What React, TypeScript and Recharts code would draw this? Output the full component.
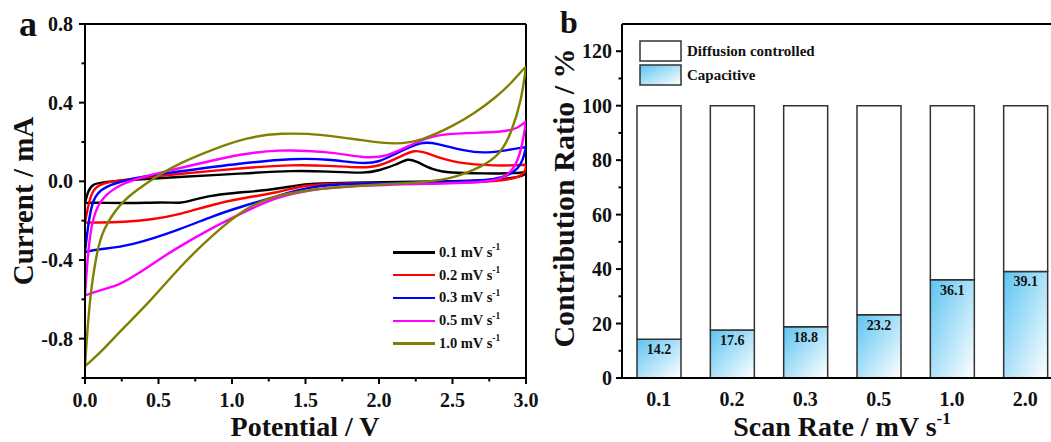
import React from "react";
import { LineChart, Line, XAxis, YAxis, ReferenceLine, BarChart, Bar, LabelList, Legend } from "recharts";

const FONT = '"Liberation Serif", "Times New Roman", serif';

// panel a - CV loops, [potential / V, current / mA], start at the V=0 corner, go up to 3 V and back
const cv01: [number, number][] = [
  [0, -0.11], [0.02, -0.05], [0.05, -0.015], [0.12, -0.003], [0.36, 0.01], [0.6, 0.02], [1.07, 0.04],
  [1.42, 0.055], [1.65, 0.05], [1.91, 0.04], [2.0, 0.055], [2.12, 0.085], [2.2, 0.118], [2.26, 0.1],
  [2.36, 0.06], [2.48, 0.042], [2.71, 0.04], [2.95, 0.04], [3.0, 0.05],
  [3.0, 0.05], [2.99, 0.03], [2.92, 0.017], [2.71, 0.003], [2.24, -0.002], [1.77, -0.006], [1.55, -0.012],
  [1.44, -0.02], [1.24, -0.047], [1.01, -0.058], [0.83, -0.075], [0.71, -0.1], [0.65, -0.112],
  [0.53, -0.105], [0.31, -0.112], [0.08, -0.108], [0, -0.11],
];
const cv02: [number, number][] = [
  [0, -0.21], [0.02, -0.13], [0.05, -0.04], [0.12, -0.005], [0.36, 0.017], [0.6, 0.035], [1.07, 0.068],
  [1.42, 0.085], [1.65, 0.08], [1.89, 0.068], [2.0, 0.076], [2.15, 0.127], [2.24, 0.162], [2.33, 0.144],
  [2.48, 0.1], [2.71, 0.08], [2.95, 0.081], [3.0, 0.085],
  [3.0, 0.085], [3.0, 0.04], [2.9, 0.008], [2.71, -0.005], [2.24, -0.012], [1.77, -0.008], [1.49, -0.017],
  [1.3, -0.06], [1.07, -0.085], [0.87, -0.117], [0.65, -0.168], [0.45, -0.195], [0.26, -0.207], [0.1, -0.21],
  [0, -0.21],
];
const cv03: [number, number][] = [
  [0, -0.36], [0.02, -0.23], [0.05, -0.09], [0.12, -0.025], [0.36, 0.022], [0.6, 0.046], [1.07, 0.093],
  [1.42, 0.117], [1.65, 0.113], [1.89, 0.088], [2.0, 0.097], [2.12, 0.144], [2.29, 0.203], [2.38, 0.195],
  [2.59, 0.153], [2.71, 0.144], [2.83, 0.153], [3.0, 0.175],
  [3.0, 0.175], [2.98, 0.11], [2.95, 0.068], [2.88, 0.025], [2.71, 0], [2.24, -0.008], [1.77, -0.012],
  [1.54, -0.025], [1.3, -0.076], [1.07, -0.127], [0.87, -0.176], [0.65, -0.244], [0.31, -0.329],
  [0.08, -0.346], [0, -0.36],
];
const cv05: [number, number][] = [
  [0, -0.58], [0.02, -0.36], [0.05, -0.18], [0.12, -0.076], [0.24, -0.017], [0.36, 0.017], [0.6, 0.059],
  [0.83, 0.1], [1.07, 0.139], [1.3, 0.161], [1.65, 0.153], [1.89, 0.119], [2.05, 0.122], [2.24, 0.195],
  [2.38, 0.237], [2.59, 0.246], [2.83, 0.249], [2.95, 0.27], [3.0, 0.305],
  [3.0, 0.305], [2.97, 0.16], [2.92, 0.06], [2.83, 0.008], [2.71, -0.005], [2.24, -0.014], [1.77, -0.025],
  [1.54, -0.042], [1.3, -0.08], [1.07, -0.16], [0.83, -0.25], [0.6, -0.35], [0.48, -0.41], [0.36, -0.47],
  [0.24, -0.525], [0.12, -0.55], [0, -0.58],
];
const cv10: [number, number][] = [
  [0, -0.94], [0.03, -0.6], [0.08, -0.36], [0.12, -0.246], [0.24, -0.11], [0.36, -0.04], [0.49, 0.027],
  [0.65, 0.095], [0.87, 0.163], [1.1, 0.223], [1.33, 0.247], [1.62, 0.239], [1.89, 0.208], [2.12, 0.185],
  [2.3, 0.21], [2.5, 0.28], [2.65, 0.345], [2.8, 0.43], [2.9, 0.5], [3.0, 0.585],
  [3.0, 0.585], [2.97, 0.415], [2.9, 0.246], [2.83, 0.144], [2.71, 0.076], [2.48, 0.008], [2.24, -0.008],
  [1.77, -0.025], [1.54, -0.042], [1.3, -0.07], [1.1, -0.13], [0.87, -0.27], [0.65, -0.43], [0.42, -0.63],
  [0.24, -0.76], [0.12, -0.86], [0, -0.94],
];
const cvLoops = [cv01, cv02, cv03, cv05, cv10];
const cvRates = ["0.1", "0.2", "0.3", "0.5", "1.0"];
const cvColors = ["#000000", "#ff0000", "#0000ff", "#ff00ff", "#808000"];
const cvXTicks = [0, 0.25, 0.5, 0.75, 1, 1.25, 1.5, 1.75, 2, 2.25, 2.5, 2.75, 3];
const cvYTicks = [-1, -0.8, -0.6, -0.4, -0.2, 0, 0.2, 0.4, 0.6, 0.8];

// panel b - contribution ratio
const rateLabels = ["0.1", "0.2", "0.3", "0.5", "1.0", "2.0"];
const capacitive = [14.2, 17.6, 18.8, 23.2, 36.1, 39.1];
const diffusion = capacitive.map((c) => Math.round((100 - c) * 10) / 10);
const ratioTicks = [0, 10, 20, 30, 40, 50, 60, 70, 80, 90, 100, 110, 120];

const barData = rateLabels.map((r, i) => ({ rate: r, cap: capacitive[i], dif: diffusion[i] }));

const tickText = { fontFamily: FONT, fontWeight: 700, fontSize: 20, fill: "#111" };

// plot edges (svg coords)
const A_LEFT = 85;
const A_BOTTOM = 378;
const B_LEFT = 82;

function CvXTick(props: any) {
  const x = props.payload.coordinate;
  const v = props.payload.value;
  const major = Math.abs(v * 2 - Math.round(v * 2)) < 1e-6;
  return (
    <g>
      <line x1={x} x2={x} y1={A_BOTTOM} y2={A_BOTTOM + (major ? 6 : 3.5)} stroke="#000" strokeWidth={2} />
      {major && (
        <text x={x} y={A_BOTTOM + 22} textAnchor="middle" dominantBaseline="central" {...tickText}>
          {v.toFixed(1)}
        </text>
      )}
    </g>
  );
}

function CvYTick(props: any) {
  const y = props.payload.coordinate;
  const v = props.payload.value;
  const major = Math.abs(v / 0.4 - Math.round(v / 0.4)) < 1e-6;
  return (
    <g>
      <line x1={A_LEFT} x2={A_LEFT - (major ? 6 : 3.5)} y1={y} y2={y} stroke="#000" strokeWidth={2} />
      {major && (
        <text x={A_LEFT - 12} y={y} textAnchor="end" dominantBaseline="central" {...tickText}>
          {v.toFixed(1)}
        </text>
      )}
    </g>
  );
}

function RatioYTick(props: any) {
  const y = props.payload.coordinate;
  const v = props.payload.value;
  const major = v % 20 === 0;
  return (
    <g>
      <line x1={B_LEFT} x2={B_LEFT - (major ? 6 : 3.5)} y1={y} y2={y} stroke="#000" strokeWidth={2} />
      {major && (
        <text x={B_LEFT - 10} y={y} textAnchor="end" dominantBaseline="central" {...tickText}>
          {v}
        </text>
      )}
    </g>
  );
}

function RateXTick(props: any) {
  const x = props.payload.coordinate;
  return (
    <text x={x} y={A_BOTTOM + 21} textAnchor="middle" dominantBaseline="central" {...tickText}>
      {props.payload.value}
    </text>
  );
}

const supStyle = (size: number): React.CSSProperties => ({ fontSize: size, position: "relative", top: "-0.7em", verticalAlign: "baseline" });

function CvLegend() {
  return (
    <div style={{ fontFamily: FONT, fontWeight: 700, fontSize: 14.5, color: "#111" }}>
      {cvRates.map((r, i) => (
        <div key={r} style={{ display: "flex", alignItems: "center", height: 22.8 }}>
          <span style={{ display: "inline-block", width: 42, height: 2.5, background: cvColors[i], marginRight: 4 }} />
          <span style={{ whiteSpace: "nowrap" }}>
            {r} mV s<span style={supStyle(9.5)}>-1</span>
          </span>
        </div>
      ))}
    </div>
  );
}

function RatioLegend() {
  const items = [
    { name: "Diffusion controlled", fill: "#ffffff" },
    { name: "Capacitive", fill: "url(#capGradLeg)" },
  ];
  return (
    <div style={{ fontFamily: FONT, fontWeight: 700, fontSize: 15, color: "#111" }}>
      {items.map((it) => (
        <div key={it.name} style={{ display: "flex", alignItems: "center", height: 24 }}>
          <svg width={43} height={22} style={{ marginRight: 5 }}>
            <defs>
              <linearGradient id="capGradLeg" x1="0" y1="0" x2="1" y2="1">
                <stop offset="0" stopColor="#5cc4f2" />
                <stop offset="1" stopColor="#ffffff" />
              </linearGradient>
            </defs>
            <rect x={1} y={1} width={41} height={20} fill={it.fill} stroke="#333" strokeWidth={1.5} />
          </svg>
          <span style={{ whiteSpace: "nowrap" }}>{it.name}</span>
        </div>
      ))}
    </div>
  );
}

const titleStyle: React.CSSProperties = {
  position: "absolute",
  fontFamily: FONT,
  fontWeight: 700,
  color: "#111",
  whiteSpace: "nowrap",
  lineHeight: 1,
};

export default function App() {
  return (
    <div style={{ position: "absolute", left: 0, top: 0, width: 1051, height: 442, overflow: "hidden", background: "#fff" }}>
      <div style={{ position: "absolute", left: 0, top: 0 }}>
        <LineChart width={540} height={442} margin={{ top: 24, right: 14, bottom: 63, left: A_LEFT - 1 }}>
          <XAxis
            dataKey="v"
            type="number"
            domain={[0, 3]}
            ticks={cvXTicks}
            allowDataOverflow
            height={1}
            axisLine={{ stroke: "#000", strokeWidth: 2 }}
            tickLine={false}
            tick={<CvXTick />}
            interval={0}
          />
          <YAxis
            type="number"
            domain={[-1, 0.8]}
            ticks={cvYTicks}
            allowDataOverflow
            width={1}
            axisLine={{ stroke: "#000", strokeWidth: 2 }}
            tickLine={false}
            tick={<CvYTick />}
            interval={0}
          />
          <ReferenceLine y={0.8} stroke="#000" strokeWidth={2} />
          <ReferenceLine x={3} stroke="#000" strokeWidth={2} />
          {cvLoops.map((loop, k) => (
            <Line
              key={cvRates[k]}
              data={loop.map(([v, i]) => ({ v, i }))}
              dataKey="i"
              name={cvRates[k]}
              type="basis"
              stroke={cvColors[k]}
              strokeWidth={2.4}
              dot={false}
              isAnimationActive={false}
            />
          ))}
          <Legend
            layout="vertical"
            align="center"
            verticalAlign="middle"
            content={<CvLegend />}
            wrapperStyle={{ left: 393, top: 241, width: 140 }}
          />
        </LineChart>
      </div>

      <div style={{ position: "absolute", left: 540, top: 0 }}>
        <BarChart width={540} height={442} data={barData} margin={{ top: 24, right: 18, bottom: 63, left: B_LEFT - 1 }} barCategoryGap={0}>
          <defs>
            <linearGradient id="capGrad" x1="0" y1="0" x2="1" y2="1">
              <stop offset="0" stopColor="#5cc4f2" />
              <stop offset="1" stopColor="#ffffff" />
            </linearGradient>
          </defs>
          <XAxis
            dataKey="rate"
            height={1}
            axisLine={{ stroke: "#000", strokeWidth: 2 }}
            tickLine={false}
            tick={<RateXTick />}
            interval={0}
          />
          <YAxis
            type="number"
            domain={[0, 130]}
            ticks={ratioTicks}
            allowDataOverflow
            width={1}
            axisLine={{ stroke: "#000", strokeWidth: 2 }}
            tickLine={false}
            tick={<RatioYTick />}
            interval={0}
          />
          <ReferenceLine y={130} stroke="#000" strokeWidth={2} />
          <Bar dataKey="cap" name="Capacitive" stackId="s" barSize={44} fill="url(#capGrad)" stroke="#333" strokeWidth={1.5} isAnimationActive={false}>
            <LabelList dataKey="cap" position="insideTop" offset={5} style={{ fontFamily: FONT, fontWeight: 700, fontSize: 14, fill: "#111" }} />
          </Bar>
          <Bar dataKey="dif" name="Diffusion controlled" stackId="s" barSize={44} fill="#ffffff" stroke="#333" strokeWidth={1.5} isAnimationActive={false} />
          <Legend
            layout="vertical"
            align="center"
            verticalAlign="middle"
            content={<RatioLegend />}
            wrapperStyle={{ left: 99, top: 39, width: 220 }}
          />
        </BarChart>
      </div>

      <div style={{ ...titleStyle, left: 19, top: 6, fontSize: 36 }}>a</div>
      <div style={{ ...titleStyle, left: 560, top: 6, fontSize: 32 }}>b</div>

      <div style={{ ...titleStyle, left: 305, top: 427, fontSize: 28, transform: "translate(-50%, -50%)" }}>Potential / V</div>
      <div style={{ ...titleStyle, left: 23, top: 201, fontSize: 29, transform: "translate(-50%, -50%) rotate(-90deg)" }}>Current / mA</div>

      <div style={{ ...titleStyle, left: 842, top: 427, fontSize: 28, transform: "translate(-50%, -50%)" }}>
        Scan Rate / mV s<span style={supStyle(17)}>-1</span>
      </div>
      <div style={{ ...titleStyle, left: 564, top: 198, fontSize: 30, transform: "translate(-50%, -50%) rotate(-90deg)" }}>
        Contribution Ratio / %
      </div>
    </div>
  );
}
